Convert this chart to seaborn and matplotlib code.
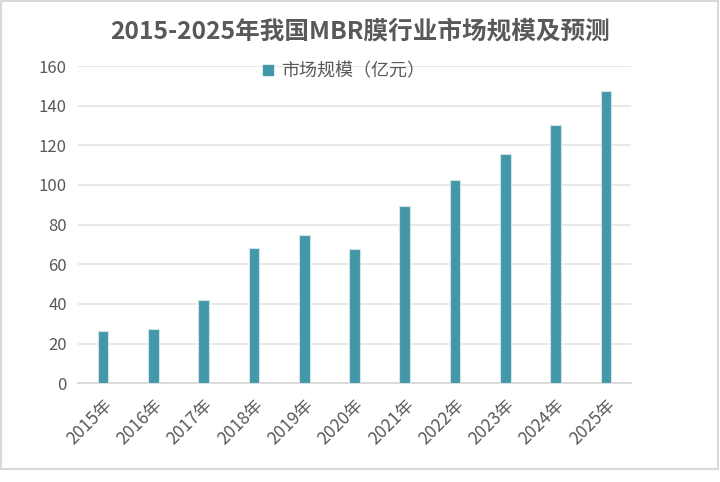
import matplotlib
matplotlib.use("Agg")
import matplotlib.pyplot as plt
import seaborn as sns
import pandas as pd
from matplotlib.lines import Line2D
from matplotlib.patches import Rectangle

years = ["2015年", "2016年", "2017年", "2018年", "2019年", "2020年",
         "2021年", "2022年", "2023年", "2024年", "2025年"]
values = [26.2, 27.2, 42.0, 68.3, 74.8, 67.8, 89.2, 102.5, 115.7, 130.2, 147.4]
series_name = "市场规模（亿元）"
title = "2015-2025年我国MBR膜行业市场规模及预测"
yticks = [0, 20, 40, 60, 80, 100, 120, 140, 160]

sns.set_theme(style="white")
plt.rcParams['font.family'] = ['Noto Sans CJK SC', 'DejaVu Sans']

bar_color = "#4397A8"
text_color = "#595959"
grid_color = "#e6e6e6"

df = pd.DataFrame({"year": years, "value": values})

fig = plt.figure(figsize=(7.2, 4.82), dpi=100)
ax = fig.add_axes([78/720, 1-383.3/482, (631-78)/720, (383.3-66)/482])

sns.barplot(data=df, x="year", y="value", color=bar_color, width=0.21,
            saturation=1, ax=ax, zorder=3, edgecolor="#cfe4e8", linewidth=0.8)

ax.set_ylim(0, 160)
ax.set_xlim(-0.5, len(years) - 0.5)
ax.set_yticks(yticks)
ax.set_yticklabels([str(t) for t in yticks], fontsize=12, color=text_color)
ax.set_xlabel("")
ax.set_ylabel("")
ax.grid(axis="y", color=grid_color, linewidth=1.3, zorder=0)
ax.set_axisbelow(True)
for s in ["top", "right", "left"]:
    ax.spines[s].set_visible(False)
ax.spines["bottom"].set_color("#d9d9d9")
ax.spines["bottom"].set_linewidth(1.3)
ax.tick_params(axis="y", length=0, pad=8)
ax.tick_params(axis="x", length=0, pad=9)
plt.setp(ax.get_xticklabels(), rotation=45, ha="right", rotation_mode="anchor",
         fontsize=12.5, color=text_color)

handle = Line2D([], [], marker="s", color=bar_color, linestyle="none", markersize=7)
leg = ax.legend([handle], [series_name], loc="upper center",
                bbox_to_anchor=(0.478, 1.035), frameon=False, fontsize=13,
                handletextpad=0.25, handlelength=1.0, borderaxespad=0)
for t in leg.get_texts():
    t.set_color(text_color)

fig.text(0.5, 1-32/482, title, ha="center", va="center", fontsize=17.7,
         fontweight="bold", color=text_color)

fig.patches.append(Rectangle((1/720, 13/482), 717/720, 468/482,
                             transform=fig.transFigure, fill=False,
                             edgecolor="#d9d9d9", linewidth=1.5))

fig.savefig("out.png", dpi=100, facecolor="white")
